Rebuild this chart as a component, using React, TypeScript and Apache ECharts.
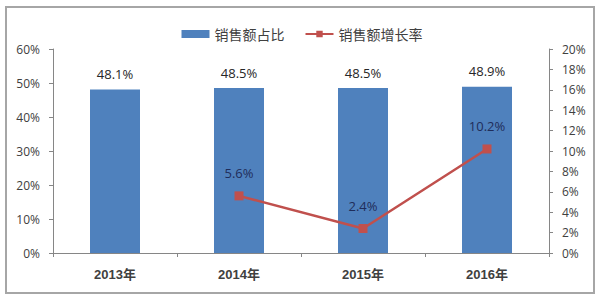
import React, { useEffect, useRef } from "react";
import * as echarts from "echarts";

const categories = ["2013年", "2014年", "2015年", "2016年"];
const shareValues = [48.1, 48.5, 48.5, 48.9];
const growthValues = [null, 5.6, 2.4, 10.2];
const shareName = "销售额占比";
const growthName = "销售额增长率";

export default function App() {
  const ref = useRef<HTMLDivElement>(null);
  useEffect(() => {
    document.body.style.margin = "0";
    const chart = echarts.init(ref.current!, null, { renderer: "svg" });
    const axisText = { color: "#404040", fontSize: 12, fontFamily: "Open Sans, Liberation Sans, sans-serif" };
    chart.setOption({
      animation: false,
      backgroundColor: "#fff",
      graphic: [
        {
          type: "rect",
          shape: { x: 6, y: 7, width: 588, height: 286 },
          style: { fill: "none", stroke: "#a6a6a6", lineWidth: 2 },
          silent: true,
        },
      ],
      legend: {
        top: 22,
        left: "center",
        itemGap: 20,
        textStyle: { color: "#404040", fontSize: 14, fontFamily: "Noto Sans CJK SC, sans-serif" },
        data: [
          { name: shareName, icon: "rect", itemStyle: { color: "#4F81BD" } },
          { name: growthName },
        ],
        itemWidth: 28,
        itemHeight: 8,
      },
      grid: { left: 53, right: 55, top: 49, bottom: 49 },
      xAxis: {
        type: "category",
        data: categories,
        axisLine: { lineStyle: { color: "#868686" } },
        axisTick: { show: true, length: 4, alignWithLabel: false, lineStyle: { color: "#868686" } },
        axisLabel: {
          margin: 15,
          color: "#404040",
          fontSize: 13,
          fontWeight: "bold",
          fontFamily: "Liberation Sans, Noto Sans CJK SC, sans-serif",
        },
      },
      yAxis: [
        {
          type: "value",
          min: 0,
          max: 60,
          interval: 10,
          splitLine: { show: false },
          axisLine: { show: true, lineStyle: { color: "#868686" } },
          axisTick: { show: true, length: 4, lineStyle: { color: "#868686" } },
          axisLabel: { ...axisText, margin: 13, formatter: "{value}%" },
        },
        {
          type: "value",
          min: 0,
          max: 20,
          interval: 2,
          position: "right",
          splitLine: { show: false },
          axisLine: { show: true, lineStyle: { color: "#868686" } },
          axisTick: { show: true, length: 4, lineStyle: { color: "#868686" } },
          axisLabel: { ...axisText, margin: 13, formatter: "{value}%" },
        },
      ],
      series: [
        {
          name: shareName,
          type: "bar",
          data: shareValues,
          barWidth: 50,
          itemStyle: { color: "#4F81BD" },
          label: {
            show: true,
            position: "top",
            distance: 9,
            formatter: (p: any) => p.value.toFixed(1) + "%",
            color: "#262626",
            fontSize: 13,
            fontFamily: "Open Sans, Liberation Sans, sans-serif",
          },
        },
        {
          name: growthName,
          type: "line",
          yAxisIndex: 1,
          data: growthValues,
          symbol: "rect",
          symbolSize: 9,
          lineStyle: { color: "#C0504D", width: 2.5 },
          itemStyle: { color: "#C0504D" },
          label: {
            show: true,
            position: "top",
            distance: 12,
            formatter: (p: any) => p.value.toFixed(1) + "%",
            color: "#1F2D5A",
            fontSize: 13,
            fontFamily: "Open Sans, Liberation Sans, sans-serif",
          },
        },
      ],
    });
    return () => chart.dispose();
  }, []);
  return <div ref={ref} style={{ width: 604, height: 302 }} />;
}
